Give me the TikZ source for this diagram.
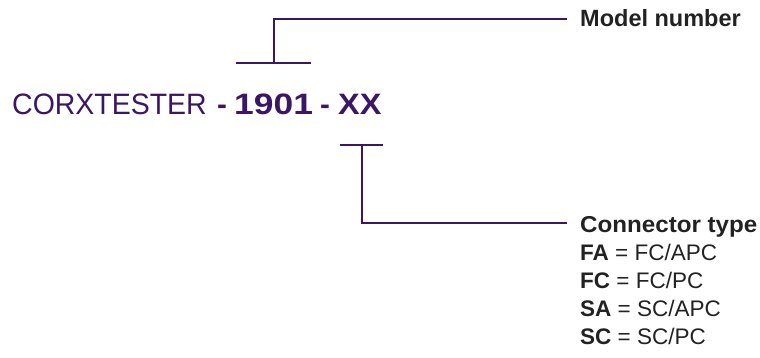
\documentclass[tikz,border=0pt]{standalone}
\usepackage{fontspec}
\setmainfont{Liberation Sans}
\usepackage{graphicx}
\definecolor{cpurple}{HTML}{3B1665}
\definecolor{ctext}{HTML}{222222}
\begin{document}
\begin{tikzpicture}[x=1pt,y=-1pt,
  conn/.style={draw=cpurple, line width=2pt},
  prod/.style={inner sep=0pt, anchor=base west, text=cpurple, font=\fontsize{29.5}{34}\selectfont},
  lbl/.style={inner sep=0pt, anchor=base west, text=ctext, font=\fontsize{22.5}{26}\selectfont}]
\useasboundingbox (0,0) rectangle (760,358);
% product code
\node[prod] (corx) at (12,115) {\scalebox{0.965}[1]{CORXTESTER}};
\node[prod] (d1) at (217,115) {\textbf{-}};
\node[prod] (num) at (234,115) {\scalebox{1.2}[1]{\textbf{1901}}};
\node[prod] (d2) at (320,115) {\textbf{-}};
\node[prod] (xx) at (338,115) {\scalebox{1.1}[1]{\textbf{XX}}};
% labels
\node[lbl, font=\fontsize{23.5}{28}\selectfont] (model) at (580,26.5) {\textbf{Model number}};
\node[lbl, font=\fontsize{23}{28}\selectfont] (ctype) at (580,232.5) {\scalebox{1.05}[1]{\textbf{Connector type}}};
\node[lbl] (fa) at (580,260.5) {\textbf{FA} = FC/APC};
\node[lbl] (fc) at (580,288.5) {\textbf{FC} = FC/PC};
\node[lbl] (sa) at (580,316.5) {\textbf{SA} = SC/APC};
\node[lbl] (sc) at (580,344.5) {\textbf{SC} = SC/PC};
% brackets
\coordinate (t1) at (236,63);
\coordinate (t2) at (310.5,63);
\coordinate (tm) at (273.5,63);
\coordinate (mend) at (566.5,19);
\draw[conn] (t1) -- (t2);
\draw[conn] (tm) |- (mend);
\coordinate (b1) at (340,145.5);
\coordinate (b2) at (383,145.5);
\coordinate (bm) at (361.5,145.5);
\coordinate (cend) at (566.5,223);
\draw[conn] (b1) -- (b2);
\draw[conn] (bm) |- (cend);
\end{tikzpicture}
\end{document}
